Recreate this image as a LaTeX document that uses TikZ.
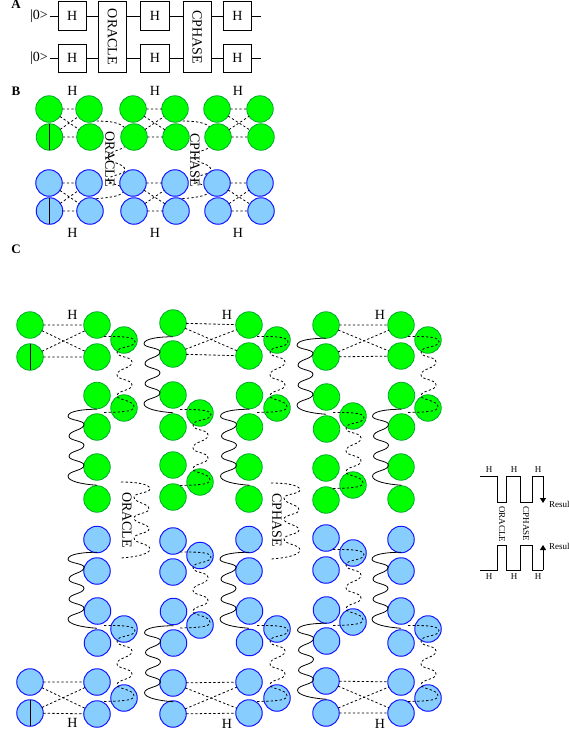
\documentclass[tikz,border=0pt]{standalone}
\usepackage{fontspec}
\setmainfont{Liberation Serif}
\usetikzlibrary{calc,backgrounds,arrows.meta}
\definecolor{qgreen}{RGB}{0,255,0}
\definecolor{qgreenl}{RGB}{0,170,40}
\definecolor{qblue}{RGB}{135,206,255}
\definecolor{qbluel}{RGB}{20,20,255}
\tikzset{
  gq/.style={circle,draw=qgreenl,fill=qgreen,line width=.8pt,minimum size=26.5pt,inner sep=0pt,outer sep=0pt},
  bq/.style={circle,draw=qbluel,fill=qblue,line width=1pt,minimum size=26.5pt,inner sep=0pt,outer sep=0pt},
  gate/.style={draw,line width=.8pt,inner sep=0pt,outer sep=0pt,minimum width=28.5pt,minimum height=28.5pt,font=\fontsize{14}{14}\selectfont},
  tall/.style={gate,minimum height=70.5pt},
  lab/.style={inner sep=0pt,outer sep=0pt,font=\fontsize{14}{14}\selectfont},
  vlab/.style={lab,rotate=-90},
  panel/.style={inner sep=0pt,outer sep=0pt,font=\fontsize{13}{13}\selectfont\bfseries},
  small/.style={inner sep=0pt,outer sep=0pt,font=\fontsize{9}{9}\selectfont},
  smallv/.style={small,rotate=-90},
  wire/.style={line width=.8pt},
  dotl/.style={line width=.8pt,dash pattern=on 2.3pt off 2.2pt},
  dotw/.style={line width=.8pt,dash pattern=on 2.3pt off 2.2pt},
  solw/.style={line width=.8pt},
  pulse/.style={line width=.8pt},
}
% wiggle: starts at (0,0), runs 76 units downward
\newcommand\wigpath{(0,0) .. controls (-15,0) and (-29,2) .. (-29,7)
  .. controls (-29,11) and (-13,11) .. (-13,15)
  .. controls (-13,21) and (-28,21) .. (-28,27)
  .. controls (-28,31.5) and (-13,31.5) .. (-13,36)
  .. controls (-13,41.5) and (-28,41.5) .. (-28,47)
  .. controls (-28,51.5) and (-13,51.5) .. (-13,56)
  .. controls (-13,61.5) and (-29,61.5) .. (-29,67)
  .. controls (-29,72) and (-15,75) .. (0,76)}
\newcommand\wig[2]{\draw[solw,shift={($(#1.south)+(0,#2)$)}] \wigpath;}
\newcommand\wave[1]{\draw[dotw,shift={(#1)},xscale=-1] \wigpath;}
% dotted loop through the two extra qubits
\newcommand\loopw[1]{\draw[dotw,shift={(#1)}] (-20,-3.5) .. controls (-8,-3.5) and (11,-4) .. (11,1.5)
  .. controls (11,8) and (-7,6) .. (-7,12)
  .. controls (-7,18) and (8,16) .. (8,22)
  .. controls (8,29) and (-7,28) .. (-7,35)
  .. controls (-7,40) and (8,39) .. (8,45)
  .. controls (8,51) and (-7,50) .. (-7,56)
  .. controls (-7,60) and (10,60) .. (10,67)
  .. controls (10,72) and (-5,72) .. (-20,72.5);}
\newcommand\xlink[4]{\draw[dotl] (#1) -- (#2) (#3) -- (#4) (#1) -- (#4) (#3) -- (#2);}
\newcommand\bwave[1]{\draw[dotw,shift={(#1)}] (3,12) .. controls (15,12) and (30,12) .. (36,19)
  .. controls (40,24) and (42,34) .. (34,39)
  .. controls (28,42) and (19,43) .. (19,48)
  .. controls (19,54) and (36,54) .. (36,61)
  .. controls (36,66) and (19,66) .. (19,71)
  .. controls (19,75) and (35,76) .. (35,81)
  .. controls (35,88) and (15,89) .. (3,90);}
\begin{document}
\begin{tikzpicture}[x=1pt,y=-1pt]
\useasboundingbox (0,0) rectangle (569,736);
\clip (0,0) rectangle (569,736);
% panel letters
\node[panel] (pa) at (16,4.4) {A};
\node[panel] (pb) at (16,91) {B};
\node[panel] (pc) at (16,249) {C};
% panel A
\node[lab] (k1) at (39,16.5) {|0>};
\node[lab] (k2) at (39,58.5) {|0>};
\node[gate] (a1) at (72.3,16) {H};
\node[gate] (a2) at (72.3,58.3) {H};
\node[tall,minimum width=28.5pt] (or) at (112.5,37) {};
\node[vlab] (ort) at (112.5,37) {ORACLE};
\node[gate] (a3) at (155,16) {H};
\node[gate] (a4) at (155,58.3) {H};
\node[tall] (cp) at (197.3,37) {};
\node[vlab] (cpt) at (197.3,37) {CPHASE};
\node[gate] (a5) at (237.5,16) {H};
\node[gate] (a6) at (237.5,58.3) {H};
\coordinate (e1) at (260.7,16);
\coordinate (e2) at (260.7,58.3);
\draw[wire] ([xshift=2.5pt]k1.east |- a1) -- (a1);
\draw[wire] ([xshift=2.5pt]k2.east |- a2) -- (a2);
\draw[wire] (a1) -- (a1 -| or.west) (a1 -| or.east) -- (a3) (a3) -- (a3 -| cp.west) (a3 -| cp.east) -- (a5) (a5) -- (e1);
\draw[wire] (a2) -- (a2 -| or.west) (a2 -| or.east) -- (a4) (a4) -- (a4 -| cp.west) (a4 -| cp.east) -- (a6) (a6) -- (e2);
% panel B
\foreach \n/\x/\y in {b1/49/109,b2/89/109,b3/49.5/137,b4/90/137,b5/133/109,b6/175/109,b7/134/137,b8/176/137,b9/217/109,b10/260/109,b11/218/137,b12/261/137}
  \node[gq] (\n) at (\x,\y) {};
\foreach \n/\x/\y in {c1/49/183,c2/89/183,c3/49.5/211,c4/90/211,c5/133/183,c6/175/183,c7/134/211,c8/176/211,c9/217/183,c10/260/183,c11/218/211,c12/261/211}
  \node[bq] (\n) at (\x,\y) {};
\begin{scope}[on background layer]
  \bwave{b2}
  \bwave{b6}
\end{scope}
\xlink{b1}{b2}{b3}{b4}\xlink{b5}{b6}{b7}{b8}\xlink{b9}{b10}{b11}{b12}
\xlink{c1}{c2}{c3}{c4}\xlink{c5}{c6}{c7}{c8}\xlink{c9}{c10}{c11}{c12}
\draw[wire] (b3.north) -- (b3.south);
\draw[wire] (c3.north) -- (c3.south);
\node[vlab] (bo) at (110,159) {ORACLE};
\node[vlab] (bc) at (195,160) {CPHASE};
\foreach \n/\x/\y in {h1/72.5/91,h2/155/91,h3/238/91,h4/72.5/233,h5/155/233,h6/238/233,h7/72.5/315,h8/227/315,h9/380/315,h10/72.5/723,h11/227/724,h12/380/724}
  \node[lab] (\n) at (\x,\y) {H};
% panel C, green qubits
\foreach \n/\x/\y in {
  ga/30/325,gb/30/357,gc/97/325,gd/97/357,ge/124/340,
  gf/97/395.5,gg/97/427,gh/124/408,gi/97/467,gj/97/499,
  gk/173/323,gl/173/354,gm/173/395,gn/173/427,go/200/413,gp/173/465,gq/173/497,gr/200/482,
  gs/249/325,gt/249/356,gu/277/340,gv/249.5/395.5,gw/249.5/427,gx/277/408,gy/249/467,gz/249/499,
  ha/326/325,hb/326/357,hc/326.5/397,hd/326.5/429,he/353/416,hf/326/468,hg/326/500,hh/353/485,
  hi/401/325,hj/401/356,hk/428/340,hl/401.5/395.5,hm/401.5/427,hn/428/408,ho/401/467,hp/401/499}
  \node[gq] (\n) at (\x,\y) {};
% panel C, blue qubits
\foreach \n/\x/\y in {
  ba/30/682,bb/30/713,bc/97/682,bd/97/714,be/124/698,
  bf/97/539.5,bg/97/571,bh/97.5/611,bi/97.5/643,bj/124/629,
  bk/173/541,bl/173/572,bm/200/555.5,bn/173.5/611.5,bo/173.5/643,bp/200/625,bq/173/683,br/173/714,
  bs/249/539.5,bt/249/571,bu/249.5/611,bv/249.5/642.5,bw/277/629,bx/249/682,by/249/713,bz/277/698,
  ca/326/538,cb/326/570,cc/353/553,cd/326.5/610,ce/326.5/641,cf/353/622,cg/326/681,ch/326/713,
  ci/401/539.5,cj/401/571,ck/401/611,cl/401/643,cm/428/629,cn/401/682,co/401/713,cp/428/698}
  \node[bq] (\n) at (\x,\y) {};
\xlink{ga}{gc}{gb}{gd}\xlink{gk}{gs}{gl}{gt}\xlink{ha}{hi}{hb}{hj}
\xlink{ba}{bc}{bb}{bd}\xlink{bq}{bx}{br}{by}\xlink{cg}{cn}{ch}{co}
\draw[wire] (gb.north) -- (gb.south);
\draw[wire] (bb.north) -- (bb.south);
% solid wiggles
\wig{gf}{.5}\wig{gk}{.5}\wig{gv}{.5}\wig{ha}{0}\wig{hl}{.5}
\wig{bf}{-.5}\wig{bn}{1}\wig{bs}{-.5}\wig{cd}{0}\wig{ci}{-.5}
% dotted loops
\loopw{ge}\loopw{gu}\loopw{hk}\loopw{go}\loopw{he}
\loopw{bj}\loopw{bw}\loopw{cm}\loopw{bm}\loopw{cc}
% long gates of panel C
\coordinate (wo) at (121,482);
\coordinate (wc) at (271,483);
\wave{wo}
\wave{wc}
\node[vlab] (co1) at (127,520) {ORACLE};
\node[vlab] (cc1) at (277,520) {CPHASE};
% pulse schematic
\coordinate (p0) at (480,476);
\coordinate (p1) at (543,476);
\coordinate (p2) at (543,503);
\coordinate (q0) at (480,570);
\coordinate (q1) at (543,570);
\coordinate (q2) at (543,545);
\draw[pulse] (p0) -- (497,476) -- (497,502) -- (506,502) -- (506,476) -- (520,476) -- (520,502) -- (532,502) -- (532,476) -- (p1);
\draw[pulse,-{Triangle[length=5pt,width=6pt]}] (p1) -- (p2);
\draw[pulse] (q0) -- (497,570) -- (497,545) -- (506,545) -- (506,570) -- (520,570) -- (520,545) -- (532,545) -- (532,570) -- (q1);
\draw[pulse,-{Triangle[length=5pt,width=6pt]}] (q1) -- (q2);
\foreach \n/\x/\y in {s1/489/470,s2/514/470,s3/538/470,s4/489/576.5,s5/514/576.5,s6/538/576.5}
  \node[small] (\n) at (\x,\y) {H};
\node[smallv] (s7) at (502,524) {ORACLE};
\node[smallv] (s8) at (526,524) {CPHASE};
\node[small,anchor=west] (s9) at (549,504) {Result};
\node[small,anchor=west] (s10) at (549,546) {Result};
\end{tikzpicture}
\end{document}
